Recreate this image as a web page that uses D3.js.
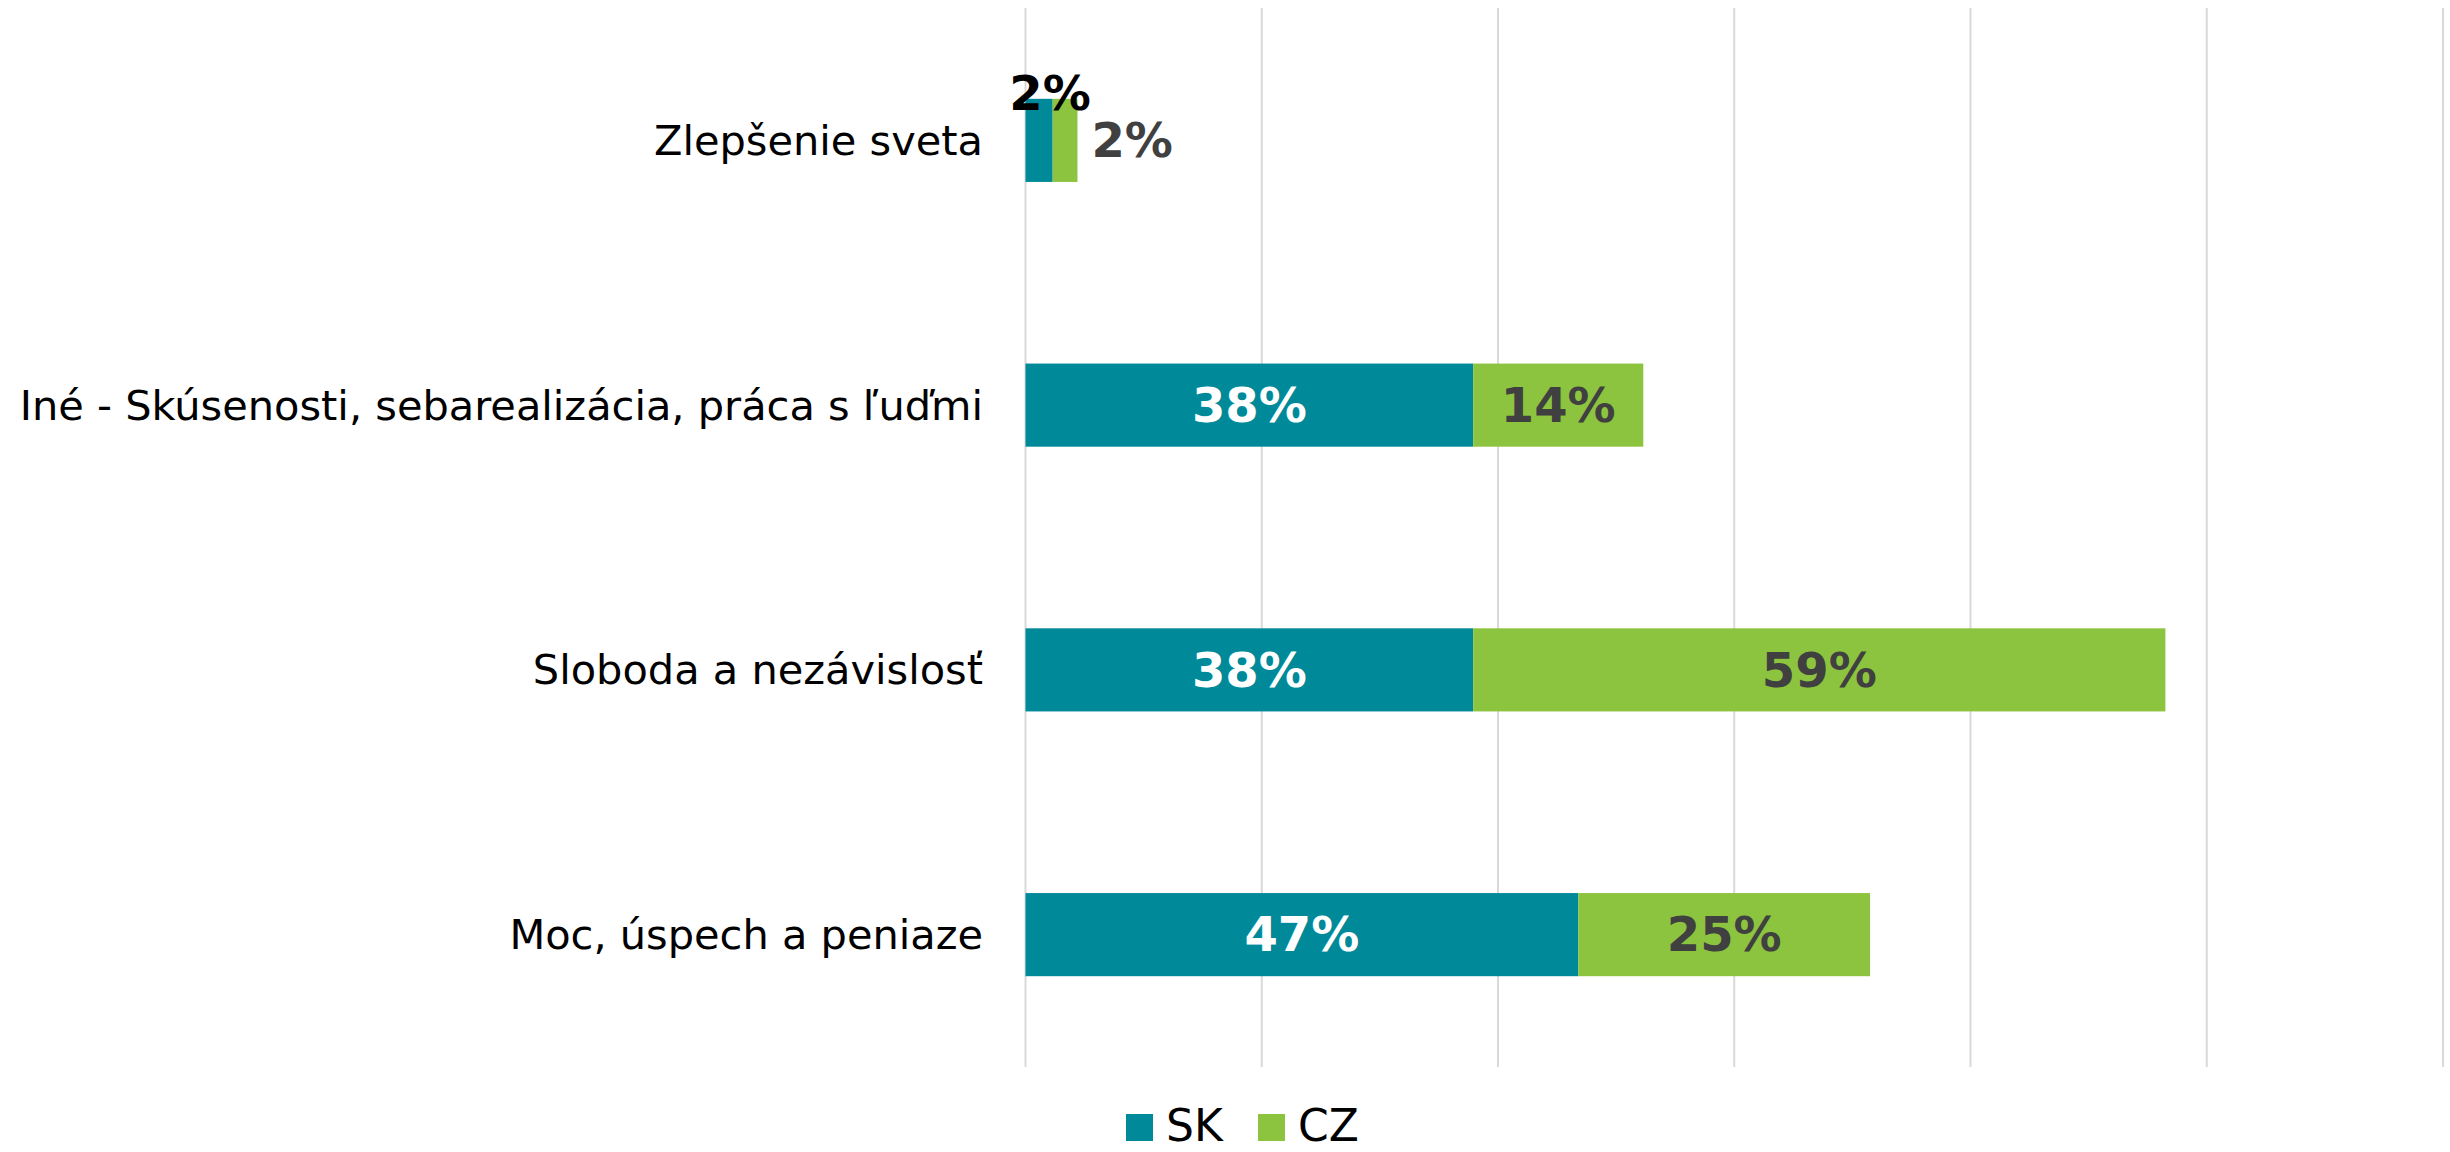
<!DOCTYPE html>
<html>
<head>
<meta charset="utf-8">
<script src="https://cdn.jsdelivr.net/npm/d3@7"></script>
<style>
  body { margin: 0; background: #fff; }
  text { font-family: "DejaVu Sans", sans-serif; }
</style>
</head>
<body>
<div id="chart"></div>
<script>
// data
var categories = ["Zlepšenie sveta", "Iné - Skúsenosti, sebarealizácia, práca s ľuďmi", "Sloboda a nezávislosť", "Moc, úspech a peniaze"];
var seriesNames = ["SK", "CZ"];
var skValues = [2.3, 37.9, 37.9, 46.8];
var czValues = [2.1, 14.4, 58.6, 24.7];
var xTicks = [0, 20, 40, 60, 80, 100, 120];

var width = 2450;
var height = 1152;
var colors = { SK: "#008a99", CZ: "#8dc43f" };

var svg = d3.select("#chart")
    .append("svg")
    .attr("width", width)
    .attr("height", height);

var xScale = d3.scaleLinear()
    .domain([0, 120])
    .range([1025.5, 2443]);

var yScale = d3.scaleBand()
    .domain(categories)
    .range([8, 1067])
    .paddingInner(0.686)
    .paddingOuter(0.343);

// gridlines
svg.append("g")
    .selectAll("line")
    .data(xTicks)
    .enter()
    .append("line")
    .attr("x1", function (d) { return xScale(d); })
    .attr("x2", function (d) { return xScale(d); })
    .attr("y1", 8)
    .attr("y2", 1067)
    .attr("stroke", "#d9d9d9")
    .attr("stroke-width", 2);

// stacked rows
var rows = categories.map(function (c, i) {
    return { cat: c, sk: skValues[i], cz: czValues[i], idx: i };
});

var bars = svg.append("g");

bars.selectAll("rect.sk")
    .data(rows)
    .enter()
    .append("rect")
    .attr("class", "sk")
    .attr("x", xScale(0))
    .attr("y", function (d) { return yScale(d.cat); })
    .attr("width", function (d) { return xScale(d.sk) - xScale(0); })
    .attr("height", yScale.bandwidth())
    .attr("fill", colors.SK);

bars.selectAll("rect.cz")
    .data(rows)
    .enter()
    .append("rect")
    .attr("class", "cz")
    .attr("x", function (d) { return xScale(d.sk); })
    .attr("y", function (d) { return yScale(d.cat); })
    .attr("width", function (d) { return xScale(d.sk + d.cz) - xScale(d.sk); })
    .attr("height", yScale.bandwidth())
    .attr("fill", colors.CZ);

// category labels
svg.append("g")
    .selectAll("text")
    .data(categories)
    .enter()
    .append("text")
    .attr("x", 983)
    .attr("y", function (d) { return yScale(d) + yScale.bandwidth() / 2; })
    .attr("dy", "0.35em")
    .attr("text-anchor", "end")
    .attr("font-size", 41.5)
    .attr("fill", "#000")
    .text(function (d) { return d; });

// value labels
var fmt = function (v) { return Math.round(v) + "%"; };

svg.append("g")
    .selectAll("text")
    .data(rows)
    .enter()
    .append("text")
    .attr("x", function (d) {
        return d.idx === 0 ? xScale(d.sk / 2) + 11 : xScale(d.sk / 2);
    })
    .attr("y", function (d) {
        return d.idx === 0 ? yScale(d.cat) - 6 : yScale(d.cat) + yScale.bandwidth() / 2;
    })
    .attr("dy", "0.35em")
    .attr("text-anchor", "middle")
    .attr("font-size", 48)
    .attr("font-weight", "bold")
    .attr("fill", function (d) { return d.idx === 0 ? "#000" : "#fff"; })
    .text(function (d) { return fmt(d.sk); });

svg.append("g")
    .selectAll("text")
    .data(rows)
    .enter()
    .append("text")
    .attr("x", function (d) {
        return d.idx === 0 ? xScale(d.sk + d.cz) + 14 : xScale(d.sk + d.cz / 2);
    })
    .attr("y", function (d) { return yScale(d.cat) + yScale.bandwidth() / 2; })
    .attr("dy", "0.35em")
    .attr("text-anchor", function (d) { return d.idx === 0 ? "start" : "middle"; })
    .attr("font-size", 48)
    .attr("font-weight", "bold")
    .attr("fill", "#404040")
    .text(function (d) { return fmt(d.cz); });

// legend
var legend = svg.append("g").attr("transform", "translate(1126, 1114)");
var legendX = [0, 132];
seriesNames.forEach(function (s, i) {
    var g = legend.append("g").attr("transform", "translate(" + legendX[i] + ",0)");
    g.append("rect")
        .attr("width", 27)
        .attr("height", 27)
        .attr("fill", colors[s]);
    g.append("text")
        .attr("x", 40)
        .attr("y", 27)
        .attr("font-size", 44)
        .attr("fill", "#000")
        .text(s);
});
</script>
</body>
</html>
